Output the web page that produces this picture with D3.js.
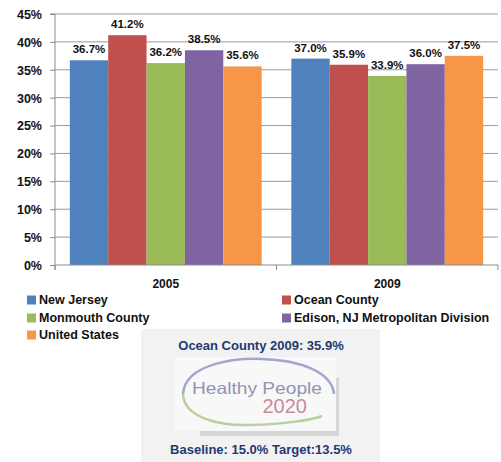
<!DOCTYPE html>
<html>
<head>
<meta charset="utf-8">
<script src="https://cdn.jsdelivr.net/npm/d3@7"></script>
<style>
  html, body { margin: 0; padding: 0; background: #fff; }
  svg { display: block; }
  text { font-family: "Liberation Sans", Arial, sans-serif; }
</style>
</head>
<body>
<svg id="chart" width="501" height="462"></svg>
<script>
const years = ["2005", "2009"];
const seriesNames = ["New Jersey", "Ocean County", "Monmouth County", "Edison, NJ Metropolitan Division", "United States"];
const seriesColors = ["#4f81bd", "#c0504d", "#9bbb59", "#8064a2", "#f79646"];
const values2005 = [36.7, 41.2, 36.2, 38.5, 35.6];
const values2009 = [37.0, 35.9, 33.9, 36.0, 37.5];
const yTicks = [0, 5, 10, 15, 20, 25, 30, 35, 40, 45];
const boxTitle = "Ocean County 2009: 35.9%";
const boxFooter = "Baseline: 15.0% Target:13.5%";
const logoLine1 = "Healthy People";
const logoLine2 = "2020";

(function () {
const valuesByYear = [values2005, values2009];
const svg = d3.select("#chart");

const pL = 55, pR = 498, pT = 14, pB = 265;

const y = d3.scaleLinear().domain([0, 45]).range([pB, pT]);
const x0 = d3.scaleBand().domain(years).range([pL, pR]).padding(0);
const bw = x0.bandwidth();
const x1 = d3.scaleBand().domain(seriesNames).range([bw * 0.067, bw * 0.933]).padding(0);

// gridlines
svg.append("g").selectAll("line").data(yTicks.filter(d => d > 0)).join("line")
  .attr("x1", pL).attr("x2", pR)
  .attr("y1", d => y(d)).attr("y2", d => y(d))
  .attr("stroke", "#9a9a9a").attr("stroke-width", 1);

// y axis
const yAxis = d3.axisLeft(y).tickValues(yTicks).tickFormat(d => d + "%").tickSize(5).tickPadding(8);
const gy = svg.append("g").attr("transform", `translate(${pL},0)`).call(yAxis);
gy.select(".domain").attr("stroke", "#8c8c8c").attr("d", `M-5,${pT}H0V${pB + 5}`);
gy.selectAll(".tick line").attr("stroke", "#8c8c8c");
gy.selectAll(".tick text").attr("font-size", 12.5).attr("font-weight", "bold").attr("fill", "#111")
  .attr("dy", "0.35em").attr("x", -13);

// bars
const groups = svg.append("g").selectAll("g").data(years).join("g")
  .attr("transform", d => `translate(${x0(d)},0)`);

groups.selectAll("rect").data((d, i) => valuesByYear[i].map((v, j) => ({ name: seriesNames[j], v, c: seriesColors[j] })))
  .join("rect")
  .attr("x", d => x1(d.name)).attr("width", x1.bandwidth())
  .attr("y", d => y(d.v)).attr("height", d => pB - y(d.v))
  .attr("fill", d => d.c);

groups.selectAll("text.lbl").data((d, i) => valuesByYear[i].map((v, j) => ({ name: seriesNames[j], v })))
  .join("text").attr("class", "lbl")
  .attr("x", d => x1(d.name) + x1.bandwidth() / 2)
  .attr("y", d => y(d.v) - 7)
  .attr("text-anchor", "middle").attr("font-size", 11.5).attr("font-weight", "bold").attr("fill", "#111")
  .text(d => d.v.toFixed(1) + "%");

// x axis
const xAxis = d3.axisBottom(x0).tickSize(0).tickPadding(14);
const gx = svg.append("g").attr("transform", `translate(0,${pB})`).call(xAxis);
gx.select(".domain").attr("stroke", "#8c8c8c").attr("d", `M${pL},0H${pR}`);
gx.selectAll(".tick text").attr("font-size", 12).attr("font-weight", "bold").attr("fill", "#111");
svg.append("g").selectAll("line").data([pL, x0(years[1]), pR]).join("line")
  .attr("x1", d => d).attr("x2", d => d).attr("y1", pB).attr("y2", pB + 5)
  .attr("stroke", "#8c8c8c");

// legend
const legendPos = [[27, 300], [282, 300], [27, 318], [282, 318], [27, 335]];
const lg = svg.append("g").selectAll("g").data(seriesNames).join("g")
  .attr("transform", (d, i) => `translate(${legendPos[i][0]},${legendPos[i][1]})`);
lg.append("rect").attr("x", 0).attr("y", -4.5).attr("width", 9).attr("height", 9)
  .attr("fill", (d, i) => seriesColors[i]);
lg.append("text").attr("x", 12).attr("y", 0).attr("dy", "0.35em")
  .attr("font-size", 12.5).attr("font-weight", "bold").attr("fill", "#111").text(d => d);

// bottom box
const box = svg.append("g");
box.append("rect").attr("x", 141).attr("y", 329).attr("width", 239).attr("height", 133).attr("fill", "#f2f2f2");
box.append("text").attr("x", 261).attr("y", 350).attr("text-anchor", "middle")
  .attr("font-size", 13).attr("font-weight", "bold").attr("fill", "#1f3a70").text(boxTitle);
box.append("text").attr("x", 261).attr("y", 454).attr("text-anchor", "middle")
  .attr("font-size", 13).attr("font-weight", "bold").attr("fill", "#1f3a70").text(boxFooter);

// logo
const lgG = box.append("g");
lgG.append("rect").attr("x", 200).attr("y", 431).attr("width", 139).attr("height", 5).attr("fill", "#d6d6d6");
lgG.append("rect").attr("x", 336).attr("y", 378).attr("width", 3).attr("height", 58).attr("fill", "#d6d6d6");
lgG.append("rect").attr("x", 175).attr("y", 357).attr("width", 161).attr("height", 74).attr("fill", "#f8f8f8");
lgG.append("path").attr("d", "M183,394 C185,362 240,358 262,359 C300,360 332,372 334,394").attr("fill", "none")
  .attr("stroke", "#a3a6d0").attr("stroke-width", 2.5);
lgG.append("path").attr("d", "M183,394 C184,418 220,426 250,425 C285,424 312,420 322,416").attr("fill", "none")
  .attr("stroke", "#b7d09e").attr("stroke-width", 2.5);
lgG.append("text").attr("x", 192).attr("y", 394)
  .attr("font-family", "'Open Sans', sans-serif").attr("font-size", 16.5).attr("textLength", 130)
  .attr("lengthAdjust", "spacingAndGlyphs").attr("fill", "#9094b4").text(logoLine1);
lgG.append("text").attr("x", 307).attr("y", 413).attr("text-anchor", "end")
  .attr("font-family", "'Open Sans', sans-serif").attr("font-size", 20).attr("fill", "#c98a97").text(logoLine2);
})();
</script>
</body>
</html>
